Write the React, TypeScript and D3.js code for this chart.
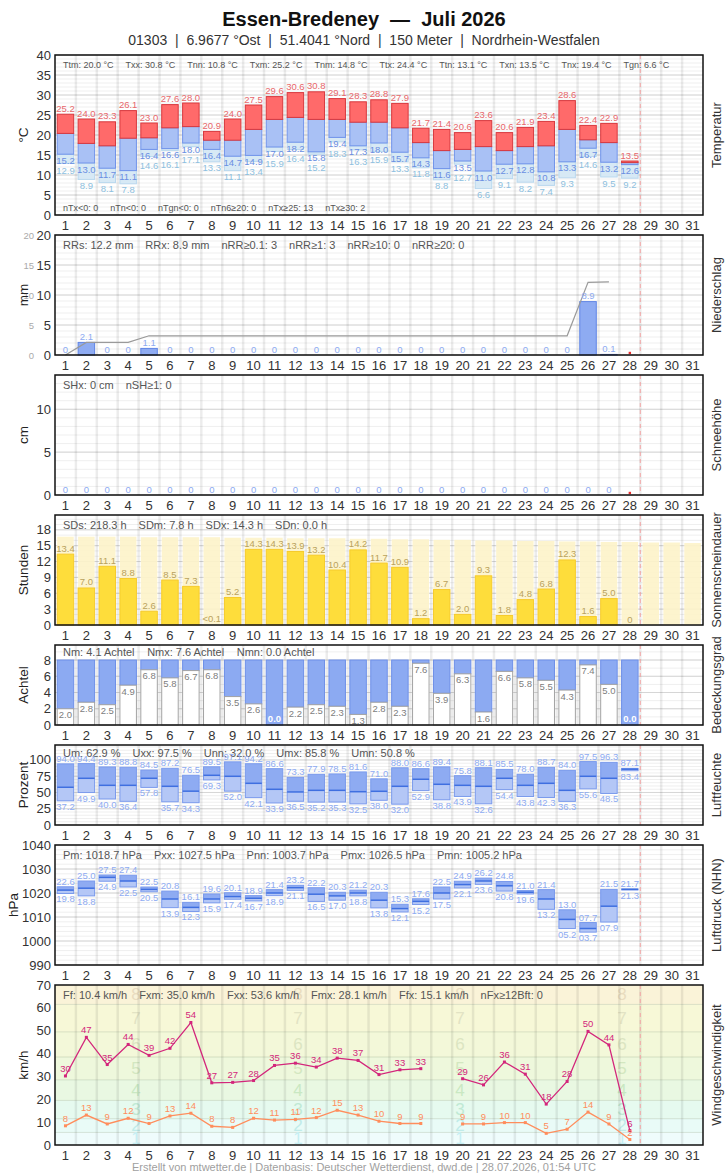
import * as d3 from 'd3'
import type { ReactNode } from 'react'

const FONT = '"Liberation Sans", Arial, Helvetica, sans-serif'

const days = d3.range(1, 32)

// Temperatur, °C
const tMax = [25.2, 24.0, 23.3, 26.1, 23.0, 27.6, 28.0, 20.9, 24.0, 27.5, 29.6, 30.6, 30.8, 29.1, 28.3, 28.8, 27.9, 21.7, 21.4, 20.6, 23.6, 20.6, 21.9, 23.4, 28.6, 22.4, 22.9, 13.5]
const tMean = [20.4, 17.9, 17.3, 19.2, 19.3, 21.8, 22.1, 18.7, 18.7, 21.4, 23.9, 24.4, 23.9, 23.9, 23.2, 23.2, 21.8, 18.1, 16.1, 16.4, 17.1, 16.1, 17.1, 17.3, 21.4, 18.8, 18.1, 13.1]
const tMin = [15.2, 13.0, 11.7, 11.1, 16.4, 16.6, 18.0, 16.4, 14.7, 14.9, 17.0, 18.2, 15.8, 19.4, 17.3, 18.0, 15.7, 14.3, 11.6, 13.5, 11.0, 12.7, 12.8, 10.8, 13.3, 16.7, 13.2, 12.6]
const tGround = [12.9, 8.9, 8.1, 7.8, 14.6, 16.1, 17.1, 13.3, 11.1, 13.4, 15.9, 16.4, 15.2, 18.3, 16.3, 15.9, 13.3, 11.8, 8.8, 12.7, 6.6, 9.1, 8.2, 7.4, 9.3, 14.6, 9.5, 9.2]
const tempStats = ['Ttm: 20.0 °C', 'Txx: 30.8 °C', 'Tnn: 10.8 °C', 'Txm: 25.2 °C', 'Tnm: 14.8 °C', 'Ttx: 24.4 °C', 'Ttn: 13.1 °C', 'Txn: 13.5 °C', 'Tnx: 19.4 °C', 'Tgn: 6.6 °C']
const tempCounts = ['nTx<0: 0', 'nTn<0: 0', 'nTgn<0: 0', 'nTn6≥20: 0', 'nTx≥25: 13', 'nTx≥30: 2']

// Niederschlag, mm
const precip = [0, 2.1, 0, 0, 1.1, 0, 0, 0, 0, 0, 0, 0, 0, 0, 0, 0, 0, 0, 0, 0, 0, 0, 0, 0, 0, 8.9, 0.1]
const precipStats = ['RRs: 12.2 mm', 'RRx: 8.9 mm', 'nRR≥0.1: 3', 'nRR≥1: 3', 'nRR≥10: 0', 'nRR≥20: 0']

// Schneehöhe, cm
const snow = [0, 0, 0, 0, 0, 0, 0, 0, 0, 0, 0, 0, 0, 0, 0, 0, 0, 0, 0, 0, 0, 0, 0, 0, 0, 0, 0]
const snowStats = ['SHx: 0 cm', 'nSH≥1: 0']

// Sonnenscheindauer, h (and possible sunshine per day)
const sun = [13.4, 7.0, 11.1, 8.8, 2.6, 8.5, 7.3, 0.05, 5.2, 14.3, 14.3, 13.9, 13.2, 10.4, 14.2, 11.7, 10.9, 1.2, 6.7, 2.0, 9.3, 1.8, 4.8, 6.8, 12.3, 1.6, 5.0, 0]
const sunPossible = [16.7, 16.7, 16.7, 16.7, 16.6, 16.6, 16.6, 16.6, 16.5, 16.5, 16.5, 16.4, 16.4, 16.4, 16.3, 16.3, 16.2, 16.2, 16.1, 16.1, 16.0, 16.0, 15.9, 15.9, 15.8, 15.8, 15.7, 15.7, 15.6, 15.6, 15.5]
const sunStats = ['SDs: 218.3 h', 'SDm: 7.8 h', 'SDx: 14.3 h', 'SDn: 0.0 h']

// Bedeckungsgrad, Achtel
const cloud = [2.0, 2.8, 2.5, 4.9, 6.8, 5.8, 6.7, 6.8, 3.5, 2.6, 0.0, 2.2, 2.5, 2.3, 1.3, 2.8, 2.3, 7.6, 3.9, 6.3, 1.6, 6.6, 5.8, 5.5, 4.3, 7.4, 5.0, 0.0]
const cloudStats = ['Nm: 4.1 Achtel', 'Nmx: 7.6 Achtel', 'Nmn: 0.0 Achtel']

// Luftfeuchte, %
const humMax = [94.0, 94.4, 89.3, 88.8, 84.5, 87.2, 76.5, 89.5, 97.1, 94.2, 86.6, 73.3, 77.9, 78.5, 81.6, 71.0, 88.0, 86.6, 89.4, 75.8, 88.1, 85.5, 78.0, 88.7, 84.0, 97.5, 96.3, 87.1]
const humMean = [58.0, 71.8, 61.0, 61.0, 71.8, 59.5, 52.0, 76.4, 74.9, 64.1, 54.9, 50.8, 53.3, 53.3, 51.2, 51.8, 59.5, 70.3, 62.6, 61.0, 59.5, 71.8, 61.0, 64.1, 53.3, 74.9, 71.8, 85.8]
const humMin = [37.2, 49.9, 40.0, 36.4, 57.8, 35.7, 34.3, 69.3, 52.0, 42.1, 33.9, 36.5, 35.2, 35.3, 32.5, 38.0, 32.0, 52.9, 38.8, 43.9, 32.6, 54.4, 43.8, 42.3, 36.3, 55.6, 48.5, 83.4]
const humStats = ['Um: 62.9 %', 'Uxx: 97.5 %', 'Unn: 32.0 %', 'Umx: 85.8 %', 'Umn: 50.8 %']

// Luftdruck (NHN), hPa
const presMax = [1022.6, 1025.0, 1027.5, 1027.4, 1022.5, 1020.8, 1016.1, 1019.6, 1020.1, 1018.9, 1021.4, 1023.2, 1022.2, 1020.3, 1021.2, 1020.3, 1015.3, 1017.6, 1022.5, 1024.9, 1026.2, 1024.8, 1021.0, 1021.4, 1013.0, 1007.7, 1021.5, 1021.7]
const presMean = [1021.2, 1022.0, 1026.5, 1025.0, 1021.5, 1017.5, 1014.0, 1017.5, 1018.5, 1017.8, 1020.0, 1022.2, 1019.5, 1018.8, 1020.0, 1017.0, 1013.5, 1016.5, 1020.0, 1023.5, 1025.0, 1023.0, 1020.3, 1017.5, 1009.0, 1005.2, 1014.5, 1021.5]
const presMin = [1019.8, 1018.8, 1024.9, 1022.5, 1020.5, 1013.9, 1012.3, 1015.9, 1017.4, 1016.7, 1018.9, 1021.1, 1016.5, 1017.0, 1018.8, 1013.8, 1012.1, 1015.2, 1017.5, 1022.1, 1023.6, 1020.8, 1019.6, 1013.2, 1005.2, 1003.7, 1007.9, 1021.3]
const presStats = ['Pm: 1018.7 hPa', 'Pxx: 1027.5 hPa', 'Pnn: 1003.7 hPa', 'Pmx: 1026.5 hPa', 'Pmn: 1005.2 hPa']

// Windgeschwindigkeit, km/h
const gust = [30.2, 47.1, 35.2, 44.0, 39.2, 42.3, 53.6, 27.2, 27.4, 28.2, 34.8, 35.8, 34.1, 38.0, 37.0, 30.8, 32.9, 33.4, null, 29.0, 26.3, 36.3, 31.0, 17.9, 27.8, 49.7, 43.8, 6.3]
const windMean = [8.4, 13.1, 9.2, 11.7, 9.4, 12.7, 13.9, 8.2, 7.7, 11.7, 10.9, 11.2, 12.0, 15.2, 13.1, 10.4, 9.4, 9.4, null, 9.2, 9.2, 9.8, 9.8, 5.1, 6.9, 14.4, 9.2, 2.4]
const windStats = ['Ff: 10.4 km/h', 'Fxm: 35.0 km/h', 'Fxx: 53.6 km/h', 'Fmx: 28.1 km/h', 'Ffx: 15.1 km/h', 'nFx≥12Bft: 0']
const bftEdges = [0, 5.5, 11.5, 19.5, 28.5, 38.5, 49.5, 61.5, 74.5]
const bftFill = ['#effcfc', '#e9fbf7', '#e6faef', '#e9f8e2', '#eef8dc', '#f3f8d9', '#f7f8d7', '#faf3d8']
const bftDigit = ['#c6eff3', '#c0ebe9', '#c0e9d4', '#c9e8c2', '#d3e7c0', '#dce5c2', '#e2e3c4', '#e9dcbf']

const L = 55
const R = 703
const x = d3.scaleBand<number>().domain(days).range([L, R])
const BW = 16.5
const cx = (d: number) => (x(d) ?? 0) + x.bandwidth() / 2
const bx = (d: number) => cx(d) - BW / 2
const cutX = L + 28 * x.step()

let measureCtx: CanvasRenderingContext2D | null = null
function textWidth(s: string, size: number) {
  if (!measureCtx) measureCtx = document.createElement('canvas').getContext('2d')
  if (!measureCtx) return s.length * size * 0.5
  measureCtx.font = `${size}px ${FONT}`
  return measureCtx.measureText(s).width
}

function StatRow({ items, y, size = 11 }: { items: string[]; y: number; size?: number }) {
  let pos = L + 8
  return (
    <g fontSize={size} fill="#555">
      {items.map((s) => {
        const tx = pos
        pos += textWidth(s, size) + 12
        return (
          <text key={s} x={tx} y={y}>
            {s}
          </text>
        )
      })}
    </g>
  )
}

type PanelProps = {
  top: number
  bottom: number
  y: d3.ScaleLinear<number, number>
  ticks: number[]
  minor?: number[]
  gridLines?: boolean
  unit: string
  unitX?: number
  title: string
  background?: ReactNode
  children?: ReactNode
  left?: ReactNode
}

function Panel({ top, bottom, y, ticks, minor = [], gridLines = true, unit, unitX = 23, title, background, children, left }: PanelProps) {
  const mid = (top + bottom) / 2
  return (
    <g>
      <rect x={L} y={top} width={R - L} height={bottom - top} fill="#fff" />
      {background}
      {minor.map((v) => (
        <line key={'m' + v} x1={L} x2={R} y1={y(v)} y2={y(v)} stroke="#efefef" strokeWidth={1} />
      ))}
      {gridLines &&
        ticks.map((v) => (
          <line key={'g' + v} x1={L} x2={R} y1={y(v)} y2={y(v)} stroke="#d6d6d6" strokeWidth={1} />
        ))}
      {d3.range(1, 31).map((i) => (
        <line
          key={'v' + i}
          x1={L + i * x.step()}
          x2={L + i * x.step()}
          y1={top}
          y2={bottom}
          stroke="rgba(0,0,0,0.075)"
          strokeWidth={2.5}
        />
      ))}
      <line x1={cutX} x2={cutX} y1={top} y2={bottom} stroke="#f3a5a5" strokeDasharray="4 3" strokeWidth={1} />
      {children}
      <rect x={L} y={top} width={R - L} height={bottom - top} fill="none" stroke="#111" strokeWidth={1.5} />
      <g fontSize={13} fill="#333" textAnchor="end">
        {ticks.map((v) => (
          <text key={'t' + v} x={51} y={y(v)} dominantBaseline="central">
            {v}
          </text>
        ))}
      </g>
      {left}
      <g fontSize={13} fill="#333" textAnchor="middle">
        {days.map((d) => (
          <text key={'d' + d} x={cx(d)} y={bottom + 14.5}>
            {d}
          </text>
        ))}
      </g>
      <text
        transform={`translate(${unitX},${mid}) rotate(-90)`}
        textAnchor="middle"
        dominantBaseline="central"
        fontSize={13.5}
        fill="#222"
      >
        {unit}
      </text>
      <text
        transform={`translate(716,${mid}) rotate(-90)`}
        textAnchor="middle"
        dominantBaseline="central"
        fontSize={13}
        fill="#333"
      >
        {title}
      </text>
    </g>
  )
}

export default function App() {
  // Temperatur
  const yT = d3.scaleLinear().domain([0, 40]).range([215, 55])
  // Niederschlag
  const yP = d3.scaleLinear().domain([0, 20]).range([355, 235])
  const precipSum = Array.from(d3.cumsum(precip))
  const sumLine = d3
    .line<number>()
    .x((_, i) => cx(i + 1))
    .y((v) => yP(v))
  // Schneehöhe
  const yS = d3.scaleLinear().domain([0, 14]).range([495, 375])
  // Sonne
  const ySun = d3.scaleLinear().domain([0, 20.8]).range([625, 515])
  // Bewölkung
  const yC = d3.scaleLinear().domain([0, 9.85]).range([725, 645])
  // Feuchte
  const yU = d3.scaleLinear().domain([0, 123]).range([825, 745])
  // Luftdruck
  const yPr = d3.scaleLinear().domain([990, 1040]).range([965, 845])
  const fmtPr = d3.format('04.1f')
  // Wind
  const yW = d3.scaleLinear().domain([0, 70]).range([1145, 985])
  const windLine = d3
    .line<number | null>()
    .defined((v) => v != null)
    .x((_, i) => cx(i + 1))
    .y((v) => yW(v as number))

  const range = (a: number, b: number, s: number) => d3.range(a, b + 0.001, s)

  return (
    <div style={{ position: 'absolute', left: 0, top: 0 }}>
      <svg width={728} height={1175} style={{ display: 'block' }} fontFamily={FONT}>
        <rect width={728} height={1175} fill="#fff" />
        <text x={364} y={26} textAnchor="middle" fontSize={20} fontWeight="bold" fill="#111" style={{ whiteSpace: 'pre' }}>
          {'Essen-Bredeney  —  Juli 2026'}
        </text>
        <text x={364} y={45} textAnchor="middle" fontSize={14} fill="#333" style={{ whiteSpace: 'pre' }}>
          {'01303  |  6.9677 °Ost  |  51.4041 °Nord  |  150 Meter  |  Nordrhein-Westfalen'}
        </text>

        {/* Temperatur */}
        <Panel top={55} bottom={215} y={yT} ticks={range(0, 40, 5)} minor={range(0, 40, 1)} unit="°C" title="Temperatur">
          <StatRow items={tempStats} y={68} size={9} />
          <StatRow items={tempCounts} y={211} size={9} />
          {tMax.map((mx, i) => {
            const d = i + 1
            const mn = tMin[i]
            const me = tMean[i]
            const g = tGround[i]
            return (
              <g key={d}>
                {g < mn && (
                  <rect x={bx(d)} y={yT(mn)} width={BW} height={yT(g) - yT(mn)} fill="#d7e9f5" stroke="#b9d8ee" />
                )}
                <rect x={bx(d)} y={yT(me)} width={BW} height={yT(mn) - yT(me)} fill="#a9c1f5" stroke="#7093ea" />
                <rect x={bx(d)} y={yT(mx)} width={BW} height={yT(me) - yT(mx)} fill="#ff6a6a" stroke="#d8383d" />
              </g>
            )
          })}
          <g fontSize={9.5} textAnchor="middle">
            {tMax.map((mx, i) => {
              // ground minimum label sits below the Tmin label when the two are close
              const minY = yT(tMin[i]) + 9.5
              const groundY = Math.max(yT(tGround[i]) + 9.5, minY + 10)
              return (
                <g key={i}>
                  <text x={cx(i + 1)} y={yT(mx) - 2.5} fill="#e8676b">
                    {mx.toFixed(1)}
                  </text>
                  <text x={cx(i + 1)} y={minY} fill="#6a8ee2">
                    {tMin[i].toFixed(1)}
                  </text>
                  <text x={cx(i + 1)} y={groundY} fill="#8ebfe0">
                    {tGround[i].toFixed(1)}
                  </text>
                </g>
              )
            })}
          </g>
        </Panel>

        {/* Niederschlag */}
        <Panel
          top={235}
          bottom={355}
          y={yP}
          ticks={range(0, 20, 5)}
          minor={range(0, 20, 1)}
          unit="mm"
          title="Niederschlag"
          left={
            <g fontSize={9.5} fill="#aaa" textAnchor="end">
              {range(0, 20, 5).map((v) => (
                <text key={v} x={34} y={yP(v)} dominantBaseline="central">
                  {v}
                </text>
              ))}
            </g>
          }
        >
          <StatRow items={precipStats} y={249} />
          {precip.map((v, i) =>
            v > 0 ? (
              <rect key={i} x={bx(i + 1)} y={yP(v)} width={BW} height={yP(0) - yP(v)} fill="#8eabf2" stroke="#5f84e4" />
            ) : null
          )}
          <path d={sumLine(precipSum) ?? ''} fill="none" stroke="#9a9a9a" strokeWidth={1.2} />
          <g fontSize={9.5} fill="#8eabf2" textAnchor="middle">
            {precip.map((v, i) => (
              <text key={i} x={cx(i + 1)} y={yP(v) - 2.5}>
                {v === 0 ? '0' : v.toFixed(1)}
              </text>
            ))}
          </g>
          <rect x={cx(28) - 1.2} y={yP(0) - 3.2} width={2.4} height={2.4} fill="#e83030" />
        </Panel>

        {/* Schneehöhe */}
        <Panel top={375} bottom={495} y={yS} ticks={[0, 5, 10]} minor={range(0, 14, 1)} unit="cm" title="Schneehöhe">
          <StatRow items={snowStats} y={389} />
          <g fontSize={9.5} fill="#8eabf2" textAnchor="middle">
            {snow.map((v, i) => (
              <text key={i} x={cx(i + 1)} y={yS(v) - 2.5}>
                {v}
              </text>
            ))}
          </g>
          <rect x={cx(28) - 1.2} y={yS(0) - 3.2} width={2.4} height={2.4} fill="#e83030" />
        </Panel>

        {/* Sonnenscheindauer */}
        <Panel top={515} bottom={625} y={ySun} ticks={range(0, 18, 3)} minor={range(0, 20, 1)} unit="Stunden" title="Sonnenscheindauer">
          {sunPossible.map((v, i) => (
            <rect key={'p' + i} x={bx(i + 1)} y={ySun(v)} width={BW} height={ySun(0) - ySun(v)} fill="#fdf3c9" opacity={0.9} />
          ))}
          <StatRow items={sunStats} y={529} />
          {sun.map((v, i) =>
            v > 0.1 ? (
              <rect key={i} x={bx(i + 1)} y={ySun(v)} width={BW} height={ySun(0) - ySun(v)} fill="#fedd3b" stroke="#f6cb2c" />
            ) : null
          )}
          <g fontSize={9.5} fill="#b9a25c" textAnchor="middle">
            {sun.map((v, i) => (
              <text key={i} x={cx(i + 1)} y={ySun(v) - 2.5}>
                {v === 0 ? '0' : v < 0.1 ? '<0.1' : v.toFixed(1)}
              </text>
            ))}
          </g>
        </Panel>

        {/* Bedeckungsgrad */}
        <Panel top={645} bottom={725} y={yC} ticks={range(0, 8, 2)} minor={range(0, 9, 1)} unit="Achtel" title="Bedeckungsgrad">
          <StatRow items={cloudStats} y={656} />
          {cloud.map((c, i) => {
            const d = i + 1
            return (
              <g key={d}>
                <rect x={bx(d)} y={yC(8)} width={BW} height={yC(c) - yC(8)} fill="#8caaf2" stroke="#6d8fe8" />
                {c > 0 && (
                  <rect x={bx(d)} y={yC(c)} width={BW} height={yC(0) - yC(c)} fill="#fff" stroke="#a3a3a3" />
                )}
                <text
                  x={cx(d)}
                  y={c > 0 ? yC(c) + 9.5 : yC(0) - 3}
                  fontSize={9.5}
                  textAnchor="middle"
                  fill={c > 0 ? '#7d7d7d' : '#fff'}
                  fontWeight={c > 0 ? 'normal' : 'bold'}
                >
                  {c.toFixed(1)}
                </text>
              </g>
            )
          })}
        </Panel>

        {/* Luftfeuchte */}
        <Panel top={745} bottom={825} y={yU} ticks={range(0, 100, 25)} minor={range(0, 120, 5)} unit="Prozent" title="Luftfeuchte">
          {humMax.map((mx, i) => {
            const d = i + 1
            const me = humMean[i]
            const mn = humMin[i]
            return (
              <g key={d}>
                <rect x={bx(d)} y={yU(mx)} width={BW} height={yU(me) - yU(mx)} fill="#8eabf2" />
                <rect x={bx(d)} y={yU(me)} width={BW} height={yU(mn) - yU(me)} fill="#b4c7f6" />
                <rect x={bx(d)} y={yU(mx)} width={BW} height={yU(mn) - yU(mx)} fill="none" stroke="#7a9aec" />
                <line x1={bx(d)} x2={bx(d) + BW} y1={yU(me)} y2={yU(me)} stroke="#3f6fe0" strokeWidth={1.5} />
              </g>
            )
          })}
          <StatRow items={humStats} y={757} />
          <g fontSize={9.5} fill="#8eabf2" textAnchor="middle">
            {humMax.map((mx, i) => (
              <g key={i}>
                <text x={cx(i + 1)} y={yU(mx) - 2}>
                  {mx.toFixed(1)}
                </text>
                <text x={cx(i + 1)} y={yU(humMin[i]) + 9}>
                  {humMin[i].toFixed(1)}
                </text>
              </g>
            ))}
          </g>
        </Panel>

        {/* Luftdruck */}
        <Panel
          top={845}
          bottom={965}
          y={yPr}
          ticks={range(990, 1040, 10)}
          minor={range(990, 1040, 2)}
          unit="hPa"
          unitX={13}
          title="Luftdruck (NHN)"
        >
          <StatRow items={presStats} y={859} />
          {presMax.map((mx, i) => {
            const d = i + 1
            const me = presMean[i]
            const mn = presMin[i]
            return (
              <g key={d}>
                <rect x={bx(d)} y={yPr(mx)} width={BW} height={yPr(me) - yPr(mx)} fill="#8eabf2" />
                <rect x={bx(d)} y={yPr(me)} width={BW} height={yPr(mn) - yPr(me)} fill="#b4c7f6" />
                <rect x={bx(d)} y={yPr(mx)} width={BW} height={yPr(mn) - yPr(mx)} fill="none" stroke="#7a9aec" />
                <line x1={bx(d)} x2={bx(d) + BW} y1={yPr(me)} y2={yPr(me)} stroke="#3f6fe0" strokeWidth={1.5} />
              </g>
            )
          })}
          <g fontSize={9.5} fill="#8eabf2" textAnchor="middle">
            {presMax.map((mx, i) => (
              <g key={i}>
                <text x={cx(i + 1)} y={yPr(mx) - 2}>
                  {fmtPr(mx - 1000)}
                </text>
                <text x={cx(i + 1)} y={yPr(presMin[i]) + 9}>
                  {fmtPr(presMin[i] - 1000)}
                </text>
              </g>
            ))}
          </g>
        </Panel>

        {/* Windgeschwindigkeit */}
        <Panel
          top={985}
          bottom={1145}
          y={yW}
          ticks={range(0, 70, 10)}
          gridLines={false}
          unit="km/h"
          title="Windgeschwindigkeit"
          background={
            <g>
              {bftFill.map((c, k) => {
                const lo = bftEdges[k]
                const hi = Math.min(bftEdges[k + 1], 70)
                return <rect key={k} x={L} y={yW(hi)} width={R - L} height={yW(lo) - yW(hi)} fill={c} />
              })}
              {bftEdges.slice(1, -1).map((e) => (
                <line key={e} x1={L} x2={R} y1={yW(e)} y2={yW(e)} stroke="rgba(110,140,100,0.22)" strokeWidth={1} />
              ))}
              {bftDigit.map((c, k) => {
                const lo = bftEdges[k]
                const hi = Math.min(bftEdges[k + 1], 70)
                return [1, 3, 5, 7].map((f) => (
                  <text
                    key={k + '-' + f}
                    x={L + ((R - L) * f) / 8}
                    y={yW((lo + hi) / 2)}
                    fontSize={17}
                    textAnchor="middle"
                    dominantBaseline="central"
                    fill={c}
                  >
                    {k + 1}
                  </text>
                ))
              })}
            </g>
          }
        >
          <StatRow items={windStats} y={999} />
          <path d={windLine(gust) ?? ''} fill="none" stroke="#d3267b" strokeWidth={1.3} />
          <path d={windLine(windMean) ?? ''} fill="none" stroke="#ff8d5c" strokeWidth={1.3} />
          {gust.map((v, i) =>
            v == null ? null : (
              <g key={'g' + i}>
                <rect x={cx(i + 1) - 1.5} y={yW(v) - 1.5} width={3} height={3} fill="#d3267b" />
                <text x={cx(i + 1)} y={yW(v) - 4} fontSize={9.5} textAnchor="middle" fill="#d3267b">
                  {Math.round(v)}
                </text>
              </g>
            )
          )}
          {windMean.map((v, i) =>
            v == null ? null : (
              <g key={'f' + i}>
                <rect x={cx(i + 1) - 1.5} y={yW(v) - 1.5} width={3} height={3} fill="#ff8d5c" />
                <text x={cx(i + 1)} y={yW(v) - 4} fontSize={9.5} textAnchor="middle" fill="#ff8d5c">
                  {Math.round(v)}
                </text>
              </g>
            )
          )}
        </Panel>

        <text x={364} y={1171} textAnchor="middle" fontSize={11} fill="#a0a0a0">
          Erstellt von mtwetter.de | Datenbasis: Deutscher Wetterdienst, dwd.de | 28.07.2026, 01:54 UTC
        </text>
      </svg>
    </div>
  )
}
